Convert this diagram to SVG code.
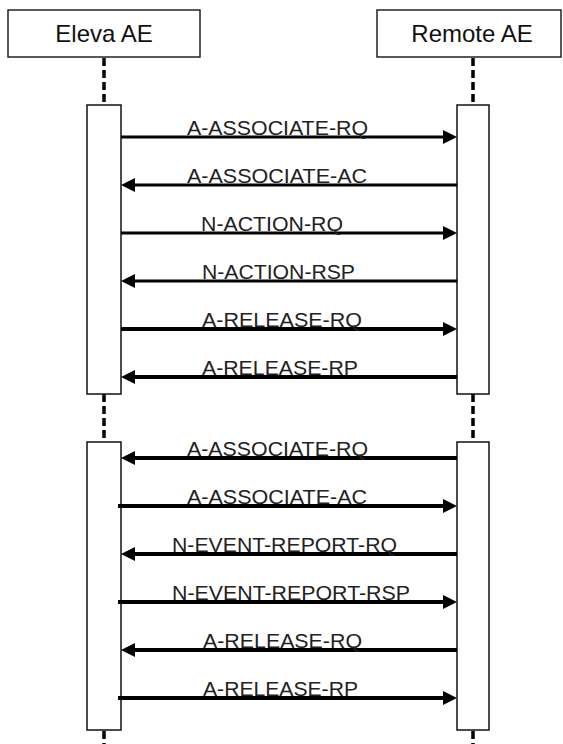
<svg xmlns="http://www.w3.org/2000/svg" width="563" height="744" viewBox="0 0 563 744">
<style>
.hdr{fill:#fff;stroke:#222;stroke-width:1.5}
.htxt{font-family:"Liberation Sans",Arial,sans-serif;font-size:24px;fill:#111;text-anchor:middle}
.life{stroke:#000;stroke-width:3.5;stroke-dasharray:8 4;fill:none}
.act{fill:#fff;stroke:#111;stroke-width:1.5}
.msg{stroke:#000;fill:none}
.head{fill:#000}
.lbl{font-family:"Liberation Sans",Arial,sans-serif;font-size:20px;fill:#222}
</style>
<rect width="563" height="744" fill="#fff"/>
<g id="lifelines">
<line class="life" x1="104" y1="58" x2="104" y2="105"/>
<line class="life" x1="104" y1="394" x2="104" y2="442"/>
<line class="life" x1="104" y1="731" x2="104" y2="744"/>
<line class="life" x1="473" y1="58" x2="473" y2="105"/>
<line class="life" x1="473" y1="394" x2="473" y2="442"/>
<line class="life" x1="473" y1="731" x2="473" y2="744"/>
</g>
<g id="eleva">
<rect class="hdr" x="8" y="10" width="192" height="47"/>
<text class="htxt" x="104" y="42">Eleva AE</text>
</g>
<g id="remote">
<rect class="hdr" x="377" y="10" width="184" height="47"/>
<text class="htxt" x="472" y="42">Remote AE</text>
</g>
<g id="eleva-act1"><rect class="act" x="87" y="105" width="34" height="289"/></g>
<g id="eleva-act2"><rect class="act" x="87" y="442" width="34" height="288"/></g>
<g id="remote-act1"><rect class="act" x="457" y="105" width="32" height="289"/></g>
<g id="remote-act2"><rect class="act" x="457" y="442" width="32" height="288"/></g>
<g id="connectors">
<!-- group 1 -->
<line class="msg" stroke-width="3" x1="121" y1="137" x2="445" y2="137"/>
<polygon class="head" points="457,137 443,130 443,144"/>
<text class="lbl" x="187" y="135" textLength="181" lengthAdjust="spacingAndGlyphs">A-ASSOCIATE-RQ</text>

<line class="msg" stroke-width="3" x1="457" y1="185" x2="133" y2="185"/>
<polygon class="head" points="121,185 135,178 135,192"/>
<text class="lbl" x="187" y="183" textLength="180" lengthAdjust="spacingAndGlyphs">A-ASSOCIATE-AC</text>

<line class="msg" stroke-width="3" x1="121" y1="233" x2="445" y2="233"/>
<polygon class="head" points="457,233 443,226 443,240"/>
<text class="lbl" x="201" y="231" textLength="142" lengthAdjust="spacingAndGlyphs">N-ACTION-RQ</text>

<line class="msg" stroke-width="3" x1="457" y1="281" x2="133" y2="281"/>
<polygon class="head" points="121,281 135,274 135,288"/>
<text class="lbl" x="202" y="279" textLength="153" lengthAdjust="spacingAndGlyphs">N-ACTION-RSP</text>

<line class="msg" stroke-width="4" x1="121" y1="329" x2="445" y2="329"/>
<polygon class="head" points="457,329 443,322 443,336"/>
<text class="lbl" x="202" y="327" textLength="160" lengthAdjust="spacingAndGlyphs">A-RELEASE-RQ</text>

<line class="msg" stroke-width="4" x1="457" y1="377" x2="133" y2="377"/>
<polygon class="head" points="121,377 135,370 135,384"/>
<text class="lbl" x="202" y="375" textLength="156" lengthAdjust="spacingAndGlyphs">A-RELEASE-RP</text>
<!-- group 2 -->
<line class="msg" stroke-width="4" x1="457" y1="458" x2="133" y2="458"/>
<polygon class="head" points="121,458 135,451 135,465"/>
<text class="lbl" x="187" y="456" textLength="181" lengthAdjust="spacingAndGlyphs">A-ASSOCIATE-RQ</text>

<line class="msg" stroke-width="4" x1="118" y1="506" x2="445" y2="506"/>
<polygon class="head" points="457,506 443,499 443,513"/>
<text class="lbl" x="187" y="504" textLength="180" lengthAdjust="spacingAndGlyphs">A-ASSOCIATE-AC</text>

<line class="msg" stroke-width="4" x1="457" y1="554" x2="133" y2="554"/>
<polygon class="head" points="121,554 135,547 135,561"/>
<text class="lbl" x="172" y="552" textLength="225" lengthAdjust="spacingAndGlyphs">N-EVENT-REPORT-RQ</text>

<line class="msg" stroke-width="4" x1="118" y1="602" x2="445" y2="602"/>
<polygon class="head" points="457,602 443,595 443,609"/>
<text class="lbl" x="172" y="600" textLength="238" lengthAdjust="spacingAndGlyphs">N-EVENT-REPORT-RSP</text>

<line class="msg" stroke-width="4" x1="457" y1="650" x2="133" y2="650"/>
<polygon class="head" points="121,650 135,643 135,657"/>
<text class="lbl" x="203" y="648" textLength="159" lengthAdjust="spacingAndGlyphs">A-RELEASE-RQ</text>

<line class="msg" stroke-width="4" x1="118" y1="698" x2="445" y2="698"/>
<polygon class="head" points="457,698 443,691 443,705"/>
<text class="lbl" x="203" y="696" textLength="155" lengthAdjust="spacingAndGlyphs">A-RELEASE-RP</text>
</g>
</svg>
